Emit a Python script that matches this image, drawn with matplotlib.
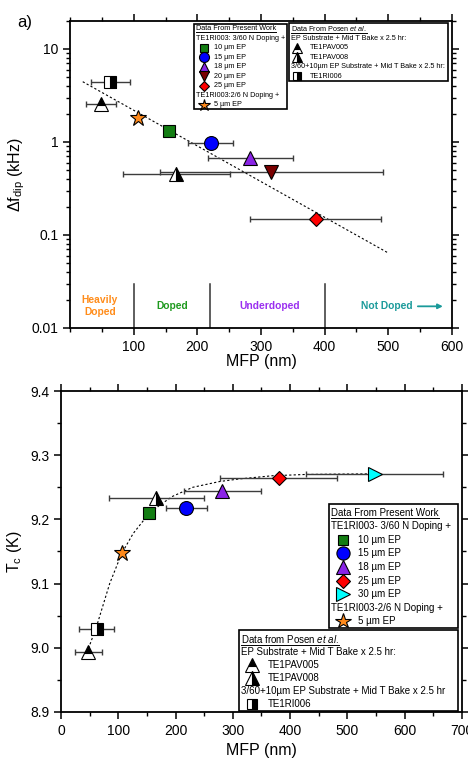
import matplotlib
matplotlib.use('Agg')
import matplotlib.pyplot as plt
from matplotlib.lines import Line2D
from matplotlib.patches import Rectangle
from matplotlib.ticker import MultipleLocator, LogLocator, FuncFormatter, NullFormatter

plt.rcParams['font.family'] = ['Liberation Sans', 'DejaVu Sans']
plt.rcParams['mathtext.fontset'] = 'custom'
plt.rcParams['mathtext.rm'] = 'Liberation Sans'
plt.rcParams['mathtext.it'] = 'Liberation Sans:italic'
plt.rcParams['mathtext.bf'] = 'Liberation Sans:bold'
plt.rcParams['axes.linewidth'] = 1.3

W, H = 468, 761

# ---- panel a) : dip width vs mean free path
df_ids = ['10um', '15um', '18um', '20um', '25um', '5um', 'PAV005', 'PAV008', 'RI006']
df_mfp = [155, 221, 283, 316, 386, 107, 48, 167, 63]
df_val = [1.31, 0.98, 0.67, 0.475, 0.150, 1.79, 2.58, 0.45, 4.4]
df_lo = [155, 185, 216, 141, 283, 107, 25, 84, 33]
df_hi = [155, 256, 350, 491, 489, 107, 72, 251, 94]
df_fit_x = [20, 500]
df_fit_y = [4.45, 0.064]

region_edges = [100, 220, 400]
region_names = ['Heavily\nDoped', 'Doped', 'Underdoped', 'Not Doped']
region_pos = [47, 161, 314, 497]
region_cols = ['#ff8c1a', '#1f9a1f', '#9a2ef0', '#1a9a9a']

# ---- panel b) : Tc vs mean free path
tc_ids = ['10um', '15um', '18um', '25um', '30um', '5um', 'PAV005', 'PAV008', 'RI006']
tc_mfp = [154, 219, 281, 380, 548, 106, 48, 166, 62]
tc_val = [9.210, 9.218, 9.244, 9.264, 9.270, 9.147, 8.993, 9.233, 9.030]
tc_lo = [147, 184, 214, 277, 427, 106, 24, 83, 31]
tc_hi = [162, 255, 350, 481, 666, 106, 72, 249, 92]
tc_fit_x = [48, 62, 85, 106, 126, 150, 172, 195, 230, 277, 311, 369, 427, 545]
tc_fit_y = [8.999, 9.033, 9.100, 9.147, 9.178, 9.205, 9.222, 9.236, 9.250, 9.259, 9.263, 9.268, 9.270, 9.271]

styles = {
    '5um': dict(marker='*', markersize=12, markerfacecolor='#ff8a1c'),
    '10um': dict(marker='s', markersize=8, markerfacecolor='#137d13'),
    '15um': dict(marker='o', markersize=10, markerfacecolor='#0000ff'),
    '18um': dict(marker='^', markersize=10, markerfacecolor='#8a24e6'),
    '20um': dict(marker='v', markersize=10, markerfacecolor='#7a0000'),
    '25um': dict(marker='D', markersize=7.5, markerfacecolor='#ff0000'),
    '30um': dict(marker='>', markersize=10, markerfacecolor='#00ffff'),
    'PAV005': dict(marker='^', markersize=10, markerfacecolor='black',
                   markerfacecoloralt='white', fillstyle='top'),
    'PAV008': dict(marker='^', markersize=10, markerfacecolor='black',
                   markerfacecoloralt='white', fillstyle='right'),
    'RI006': dict(marker='s', markersize=8, markerfacecolor='black',
                  markerfacecoloralt='white', fillstyle='right'),
}
for s in styles.values():
    s.setdefault('markeredgecolor', 'black')
    s.setdefault('markeredgewidth', 0.8)

fig = plt.figure(figsize=(W / 100, H / 100), dpi=100)
ax1 = fig.add_axes([0.1496, 0.569, 0.8162, 0.4034])
ax2 = fig.add_axes([0.1303, 0.0644, 0.8569, 0.4218])


def plot_points(ax, ids, xs, ys, lo, hi):
    for k, x, y, a, b in zip(ids, xs, ys, lo, hi):
        if b > a:
            ax.errorbar([x], [y], xerr=[[x - a], [b - x]], fmt='none', ecolor='#3c3c3c',
                        elinewidth=1, capsize=2.5, capthick=1, zorder=3)
        ax.plot([x], [y], ls='none', zorder=4, **styles[k])


def style_axis(ax):
    ax.tick_params(which='both', direction='out', top=True, right=True, labelsize=10)
    ax.tick_params(which='major', length=5, width=1.1)
    ax.tick_params(which='minor', length=3, width=1)


# panel a
ax1.plot(df_fit_x, df_fit_y, color='black', lw=0.8, ls=(0, (2, 2)), zorder=2)
plot_points(ax1, df_ids, df_mfp, df_val, df_lo, df_hi)
ax1.set_yscale('log')
ax1.set_xlim(0, 600)
ax1.set_ylim(0.01, 20)
ax1.set_xticks([100, 200, 300, 400, 500, 600])
ax1.xaxis.set_minor_locator(MultipleLocator(50))
ax1.yaxis.set_major_locator(LogLocator(base=10))
ax1.yaxis.set_minor_locator(LogLocator(base=10, subs=range(2, 10)))
ax1.yaxis.set_major_formatter(FuncFormatter(lambda v, p: '%g' % v))
ax1.yaxis.set_minor_formatter(NullFormatter())
style_axis(ax1)
ax1.set_xlabel('MFP (nm)', fontsize=11.5, labelpad=0)
ax1.set_ylabel(r'$\Delta$f$_{\rm dip}$ (kHz)', fontsize=11.5, labelpad=3)

for xe in region_edges:
    ax1.plot([xe, xe], [0.01, 0.0294], color='#333333', lw=1.1, zorder=2)
for name, xp, c in zip(region_names, region_pos, region_cols):
    ax1.text(xp, 0.0172, name, color=c, fontsize=7.4, fontweight='bold',
             ha='center', va='center', linespacing=1.25)
ax1.annotate('', xy=(590, 0.0171), xytext=(542, 0.0171),
             arrowprops=dict(arrowstyle='-|>', color='#1a9a9a', lw=1.3, mutation_scale=7))

# panel b
ax2.plot(tc_fit_x, tc_fit_y, color='black', lw=0.8, ls=(0, (2, 2)), zorder=2)
plot_points(ax2, tc_ids, tc_mfp, tc_val, tc_lo, tc_hi)
ax2.set_xlim(0, 700)
ax2.set_ylim(8.9, 9.4)
ax2.xaxis.set_major_locator(MultipleLocator(100))
ax2.xaxis.set_minor_locator(MultipleLocator(50))
ax2.yaxis.set_major_locator(MultipleLocator(0.1))
ax2.yaxis.set_minor_locator(MultipleLocator(0.05))
ax2.yaxis.set_major_formatter(FuncFormatter(lambda v, p: '%.1f' % v))
style_axis(ax2)
ax2.set_xlabel('MFP (nm)', fontsize=11.5, labelpad=4)
ax2.set_ylabel(r'T$_{\rm c}$ (K)', fontsize=11.5, labelpad=4)

fig.text(25 / W, 1 - 22 / H, 'a)', fontsize=12, ha='center', va='center')

# legends (drawn by hand, Origin style)
underlined = []


def legend_box(box, rows, y0, dy, hx, mx, tx, fs, mscale):
    x0, yt, x1, yb = box
    fig.add_artist(Rectangle((x0 / W, 1 - yb / H), (x1 - x0) / W, (yb - yt) / H,
                             transform=fig.transFigure, fc='white', ec='black', lw=1.2, zorder=5))
    for i, (text, key, under) in enumerate(rows):
        y = 1 - (y0 + i * dy) / H
        if key is None:
            t = fig.text(hx / W, y, text, fontsize=fs, ha='left', va='center', zorder=7)
            if under:
                underlined.append(t)
        else:
            st = dict(styles[key])
            st['markersize'] = st['markersize'] * mscale
            fig.add_artist(Line2D([mx / W], [y], transform=fig.transFigure, ls='none', zorder=6, **st))
            fig.text(tx / W, y, text, fontsize=fs, ha='left', va='center', zorder=7)


pw_top = [('Data From Present Work', None, True),
          ('TE1RI003: 3/60 N Doping +', None, False),
          ('10 µm EP', '10um', False), ('15 µm EP', '15um', False),
          ('18 µm EP', '18um', False), ('20 µm EP', '20um', False),
          ('25 µm EP', '25um', False),
          ('TE1RI003:2/6 N Doping +', None, False),
          ('5 µm EP', '5um', False)]
posen_top = [(r'Data From Posen $\mathit{et\ al.}$', None, True),
             ('EP Substrate + Mid T Bake x 2.5 hr:', None, False),
             ('TE1PAV005', 'PAV005', False), ('TE1PAV008', 'PAV008', False),
             ('3/60+10µm EP Substrate + Mid T Bake x 2.5 hr:', None, False),
             ('TE1RI006', 'RI006', False)]
pw_bot = [('Data From Present Work', None, True),
          ('TE1RI003- 3/60 N Doping +', None, False),
          ('10 µm EP', '10um', False), ('15 µm EP', '15um', False),
          ('18 µm EP', '18um', False), ('25 µm EP', '25um', False),
          ('30 µm EP', '30um', False),
          ('TE1RI003-2/6 N Doping +', None, False),
          ('5 µm EP', '5um', False)]
posen_bot = [(r'Data from Posen $\mathit{et\ al.}$', None, True),
             ('EP Substrate + Mid T Bake x 2.5 hr:', None, False),
             ('TE1PAV005', 'PAV005', False), ('TE1PAV008', 'PAV008', False),
             ('3/60+10µm EP Substrate + Mid T Bake x 2.5 hr', None, False),
             ('TE1RI006', 'RI006', False)]

legend_box((194, 24, 287, 109), pw_top, 28.5, 9.55, 195.5, 203.5, 213.5, 5.2, 0.72)
legend_box((289, 23, 448, 81), posen_top, 28.5, 9.54, 291, 297, 309.5, 5.2, 0.72)
legend_box((329, 504, 458, 628), pw_bot, 512.5, 13.6, 331, 343, 357.5, 7.0, 0.95)
legend_box((239, 630, 458, 711), posen_bot, 639, 13.06, 241, 252, 268, 7.0, 0.95)

fig.canvas.draw()
r = fig.canvas.get_renderer()
for t in underlined:
    bb = t.get_window_extent(r)
    yy = (bb.y0 - 0.3) / H
    fig.add_artist(Line2D([bb.x0 / W, bb.x1 / W], [yy, yy], transform=fig.transFigure,
                          color='black', lw=0.7, zorder=7))

fig.savefig('out.png', dpi=100)
